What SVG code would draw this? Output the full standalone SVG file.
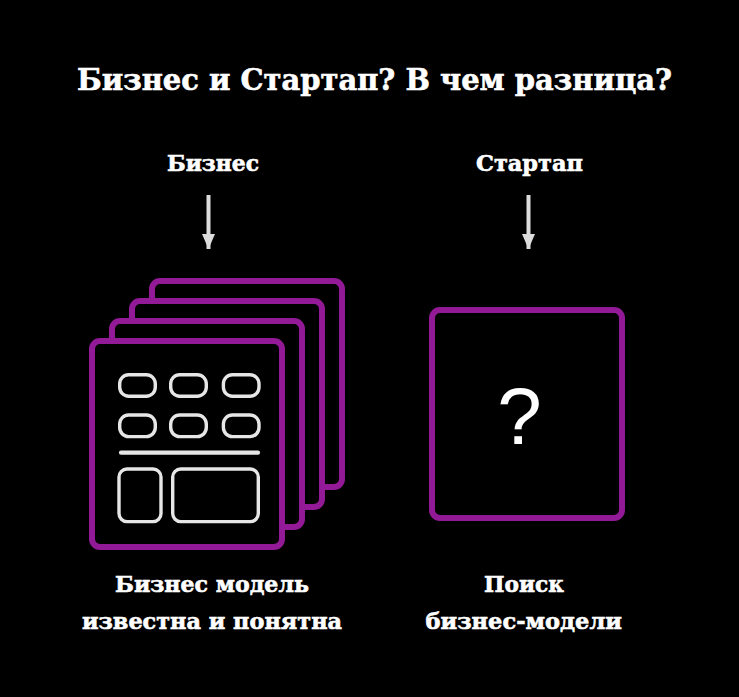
<svg xmlns="http://www.w3.org/2000/svg" width="739" height="697" viewBox="0 0 739 697">
<defs>
<style>
.t{font-family:"DejaVu Serif","Liberation Serif",serif;font-weight:bold;fill:#ffffff;stroke:#ffffff;stroke-width:0.6}
.card{fill:#000000;stroke:#931a96;stroke-width:6}
.el{fill:none;stroke:#e6e6e6;stroke-width:3.4}
.arr{stroke:#dcdcdc;stroke-width:4}
</style>
<marker id="ah" viewBox="0 0 15 13" refX="15" refY="6.5" markerWidth="15" markerHeight="13" markerUnits="userSpaceOnUse" orient="auto">
<path d="M0,0 L15,6.5 L0,13 Z" fill="#dcdcdc"/>
</marker>
</defs>
<rect width="739" height="697" fill="#000000"/>
<text class="t" x="77" y="89.5" font-size="29.5" textLength="595" lengthAdjust="spacingAndGlyphs">Бизнес и Стартап? В чем разница?</text>
<g id="label-business"><text class="t" x="167" y="171" font-size="22" textLength="92" lengthAdjust="spacingAndGlyphs">Бизнес</text></g>
<g id="label-startup"><text class="t" x="476" y="171" font-size="22" textLength="107" lengthAdjust="spacingAndGlyphs">Стартап</text></g>
<g id="connectors">
<line class="arr" x1="208.5" y1="195" x2="208.5" y2="249" marker-end="url(#ah)"/>
<line class="arr" x1="528.5" y1="195" x2="528.5" y2="249" marker-end="url(#ah)"/>
</g>
<g id="business-stack">
<rect class="card" x="152" y="281" width="190" height="206" rx="8"/>
<rect class="card" x="132" y="301" width="190" height="206" rx="8"/>
<rect class="card" x="112" y="321" width="190" height="206" rx="8"/>
<rect class="card" x="92" y="341" width="190" height="206" rx="8"/>
<rect class="el" x="119.7" y="374.7" width="35.6" height="21.6" rx="9"/>
<rect class="el" x="170.7" y="374.7" width="35.6" height="21.6" rx="9"/>
<rect class="el" x="223.4" y="374.7" width="35.6" height="21.6" rx="9"/>
<rect class="el" x="119.7" y="415" width="35.6" height="21.6" rx="9"/>
<rect class="el" x="170.7" y="415" width="35.6" height="21.6" rx="9"/>
<rect class="el" x="223.4" y="415" width="35.6" height="21.6" rx="9"/>
<line x1="121" y1="452.7" x2="258" y2="452.7" stroke="#e6e6e6" stroke-width="4.2" stroke-linecap="round"/>
<rect class="el" x="119" y="469" width="42" height="52.6" rx="8"/>
<rect class="el" x="172.7" y="469" width="85.6" height="52.6" rx="8"/>
</g>
<g id="startup-card">
<rect class="card" x="432" y="310" width="190" height="208" rx="8"/>
<text x="519.5" y="444" font-family="Liberation Sans, Arial, sans-serif" font-size="80" fill="#ffffff" text-anchor="middle">?</text>
</g>
<g id="caption-business">
<text class="t" x="115" y="592" font-size="23" textLength="194" lengthAdjust="spacingAndGlyphs">Бизнес модель</text>
<text class="t" x="82" y="628.5" font-size="23" textLength="260" lengthAdjust="spacingAndGlyphs">известна и понятна</text>
</g>
<g id="caption-startup">
<text class="t" x="484" y="592" font-size="23" textLength="80" lengthAdjust="spacingAndGlyphs">Поиск</text>
<text class="t" x="425.5" y="628.5" font-size="23" textLength="196.5" lengthAdjust="spacingAndGlyphs">бизнес-модели</text>
</g>
</svg>
